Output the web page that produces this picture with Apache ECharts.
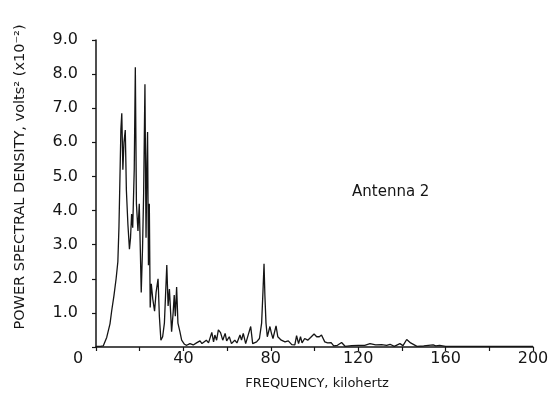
<!DOCTYPE html>
<html>
<head>
<meta charset="utf-8">
<script src="https://cdn.jsdelivr.net/npm/echarts@6/dist/echarts.min.js"></script>
<style>
html,body{margin:0;padding:0;background:#fff;}
#chart{width:560px;height:397px;}
</style>
</head>
<body>
<div id="chart"></div>
<script>
// Frequency (kHz) and power spectral density (volts^2 x10^-2)
const freqKHz = [
  0, 2, 3.3, 4.9, 6.4, 7.2, 8.2, 9.2, 10, 10.5, 10.8, 11.4, 11.8, 12.3, 12.8, 13.4, 13.9, 14.6, 15.3, 15.8,
  16.3, 16.8, 17.5, 18, 18.5, 19.2, 19.8, 20.3, 20.7, 21.3, 21.8, 22.4, 22.9, 23.3, 23.6, 24.0, 24.4, 24.8, 25.3, 26.0,
  26.8, 27.5, 28.4, 29.0, 29.7, 30.5, 31.3, 32.4, 33.0, 33.6, 34.6, 35.3, 35.8, 36.3, 36.9, 37.5, 38.4, 39.2, 40.5,
  41.5, 43, 44.5, 46, 47.6, 48.5, 50.5, 51.5, 53, 53.8, 54.4, 55.2, 56, 57, 58, 59.1, 59.8, 61, 62, 63.5,
  64.5, 65.9, 66.6, 67.4, 68.5, 70.1, 70.8, 71.7, 73.5, 74.8, 75.8, 76.4, 76.9, 77.3, 77.8, 78.4, 79.6, 80.3, 81, 82.4,
  83.2, 84.8, 86.5, 88, 89.6, 91, 91.8, 92.7, 93.6, 94.3, 95.5, 96.9, 98.2, 99.8, 101, 102.2, 103.2, 104.7, 106, 107.6,
  108.8, 110.5, 112.4, 114, 117, 120, 123, 125.4, 128, 130.7, 133, 134.6, 136.5, 139.1, 140.5, 142.2, 144, 146.9, 150, 154.3,
  155.5, 157.3, 160, 170, 180, 190, 200
];
const psd = [
  0.02, 0.02, 0.03, 0.28, 0.68, 1.07, 1.5, 2.0, 2.5, 3.5, 4.45, 6.4, 6.85, 5.2, 6.0, 6.36, 4.6, 3.6, 2.87, 3.2,
  3.9, 3.5, 5.2, 8.2, 4.2, 3.4, 4.2, 2.8, 1.6, 2.9, 4.5, 7.7, 3.2, 5.4, 6.3, 2.4, 4.2, 1.16, 1.85, 1.4,
  1.05, 1.6, 2.0, 0.9, 0.2, 0.3, 0.7, 2.4, 1.2, 1.7, 0.45, 1.0, 1.52, 0.9, 1.76, 0.7, 0.45, 0.2, 0.08,
  0.05, 0.1, 0.06, 0.12, 0.18, 0.1, 0.2, 0.12, 0.43, 0.15, 0.35, 0.2, 0.5, 0.42, 0.2, 0.4, 0.18, 0.3, 0.1, 0.2,
  0.12, 0.35, 0.2, 0.4, 0.1, 0.45, 0.6, 0.1, 0.15, 0.25, 0.7, 1.6, 2.44, 1.5, 0.7, 0.3, 0.6, 0.4, 0.25, 0.62,
  0.3, 0.2, 0.15, 0.18, 0.07, 0.06, 0.33, 0.1, 0.3, 0.12, 0.25, 0.2, 0.28, 0.38, 0.3, 0.3, 0.35, 0.15, 0.12, 0.13,
  0.03, 0.05, 0.13, 0.02, 0.04, 0.05, 0.05, 0.1, 0.06, 0.07, 0.05, 0.08, 0.02, 0.1, 0.04, 0.22, 0.12, 0.02, 0.03, 0.06,
  0.03, 0.05, 0.02, 0.02, 0.02, 0.02, 0.02
];
const xTickValues = [0, 40, 80, 120, 160, 200];
const yTickLabels = ['0', '1.0', '2.0', '3.0', '4.0', '5.0', '6.0', '7.0', '8.0', '9.0'];
const xTitle = 'FREQUENCY, kilohertz';
const yTitle = 'POWER SPECTRAL DENSITY, volts\u00B2 (x10\u207B\u00B2)';
const annotation = 'Antenna 2';

const ink = '#151515';
const chart = echarts.init(document.getElementById('chart'), null, {renderer: 'canvas'});
chart.setOption({
  animation: false,
  backgroundColor: '#fff',
  grid: {left: 96, right: 27, top: 40, bottom: 50, containLabel: false},
  xAxis: {
    type: 'value', min: 0, max: 200, interval: 20,
    axisLine: {show: true, lineStyle: {color: ink, width: 1.5}},
    axisTick: {show: true, inside: false, length: 4, lineStyle: {color: ink, width: 1.2}},
    splitLine: {show: false},
    axisLabel: {
      show: true, margin: 4, color: ink, fontFamily: 'DejaVu Sans', fontSize: 16,
      showMinLabel: true, showMaxLabel: true,
      formatter: function (v) {
        if (xTickValues.indexOf(v) < 0) return '';
        return v === 0 ? '{z|' + v + '}' : String(v);
      },
      rich: {z: {fontFamily: 'DejaVu Sans', fontSize: 16, color: ink, padding: [0, 36, 0, 0]}}
    }
  },
  yAxis: {
    type: 'value', min: 0, max: 9, interval: 1,
    axisLine: {show: true, lineStyle: {color: ink, width: 1.5}},
    axisTick: {show: true, inside: false, length: 4, lineStyle: {color: ink, width: 1.2}},
    splitLine: {show: false},
    axisLabel: {
      show: true, margin: 18, color: ink, fontFamily: 'DejaVu Sans', fontSize: 16,
      showMinLabel: true, showMaxLabel: true,
      formatter: function (v) { return v === 0 ? '' : yTickLabels[Math.round(v)]; }
    }
  },
  graphic: [
    {type: 'text', x: 317, y: 384, style: {text: xTitle, fill: ink, font: '13px "DejaVu Sans"', textAlign: 'center', textVerticalAlign: 'middle'}},
    {type: 'text', x: 20, y: 177, rotation: Math.PI / 2, style: {text: yTitle, fill: ink, font: '14.5px "DejaVu Sans"', textAlign: 'center', textVerticalAlign: 'middle'}},
    {type: 'text', x: 352, y: 192, style: {text: annotation, fill: ink, font: '15px "DejaVu Sans"', textAlign: 'left', textVerticalAlign: 'middle'}}
  ],
  series: [{
    type: 'line',
    data: freqKHz.map(function (f, i) { return [f, psd[i]]; }),
    showSymbol: false,
    symbol: 'none',
    lineStyle: {color: ink, width: 1.3},
    silent: true
  }]
});
</script>
</body>
</html>
